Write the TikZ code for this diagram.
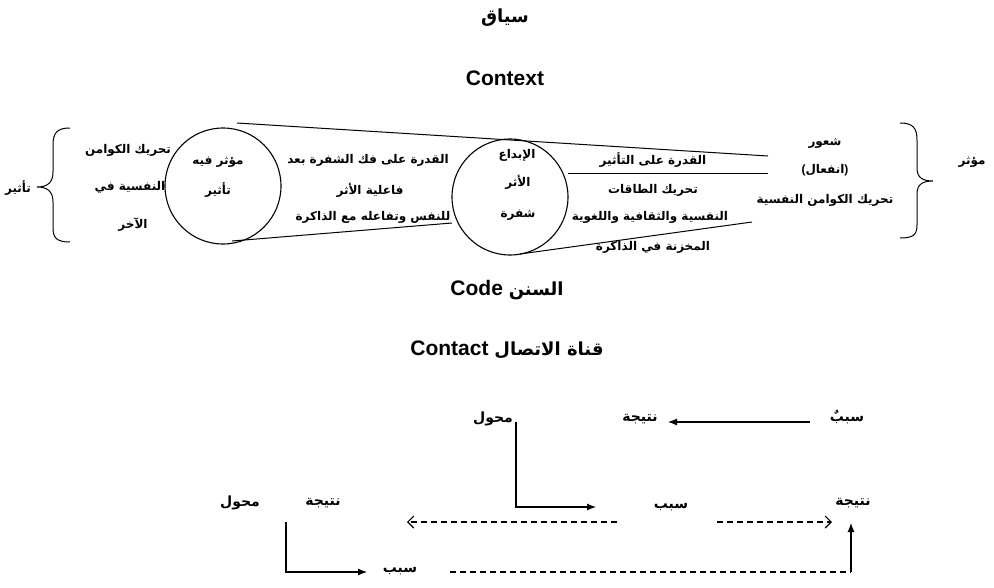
\documentclass[tikz,border=0pt]{standalone}
\usepackage{fontspec}
\setmainfont{Liberation Sans}
\newfontfamily\arfont[Script=Arabic]{DejaVu Sans}
\TeXXeTstate=1
\usetikzlibrary{arrows.meta}
\newcommand{\AR}[1]{{\arfont\beginR #1\endR}}
\begin{document}
\begin{tikzpicture}[x=1pt,y=-1pt,
  ar/.style={font=\arfont\bfseries\fontsize{12}{14}\selectfont, inner sep=0pt},
  arb/.style={font=\arfont\bfseries\fontsize{14}{16}\selectfont, inner sep=0pt},
  lat/.style={font=\bfseries\fontsize{21}{24}\selectfont, inner sep=0pt},
  ln/.style={line width=1pt},
  ring/.style={line width=1.1pt},
  sol/.style={line width=1.1pt, -{Latex[length=9pt,width=7pt]}},
  dsh/.style={line width=1.1pt, dash pattern=on 6pt off 4pt},
  barb/.style={-{Straight Barb[length=6pt,width=12pt,line width=1.1pt]}}]
\useasboundingbox (0,0) rectangle (994,587);
% titles
\node[font=\arfont\bfseries\fontsize{18}{20}\selectfont, inner sep=0pt] (tsiyaq) at (505,18) {\AR{سياق}};
\node[lat] (tcontext) at (505,78) {Context};
\node[lat] (tcode) at (507,290) {Code {\fontsize{18}{20}\selectfont\AR{السنن}}};
\node[lat] (tcontact) at (507,350) {Contact {\fontsize{18}{20}\selectfont\AR{قناة الاتصال}}};
% braces
\draw[ln] (70,128) .. controls (57,128) and (53,133) .. (53,145) -- (53,172) .. controls (53,183) and (47,187) .. (37,187) .. controls (47,187) and (53,191) .. (53,202) -- (53,228) .. controls (53,238) and (57,242) .. (70,242);
\draw[ln] (900,123) .. controls (913,123) and (917,128) .. (917,140) -- (917,168) .. controls (917,178) and (923,181) .. (933,181) .. controls (923,181) and (917,184) .. (917,194) -- (917,225) .. controls (917,235) and (913,238) .. (900,238);
% circles
\coordinate (c1) at (223,186);
\coordinate (c2) at (510,197);
\draw[ring] (c1) circle[radius=58pt];
\draw[ring] (c2) circle[radius=58pt];
% lines
\draw[ln] (237,123) -- (768,156);
\draw[ln] (568,173) -- (768,173);
\draw[ln] (232,241) -- (452,223);
\draw[ln] (520,254) -- (752,222);
% side labels
\node[ar] (lbl) at (18,188) {\AR{تأثير}};
\node[ar] (rbl) at (972,162) {\AR{مؤثر}};
% left text
\node[ar] (l1) at (128,150) {\AR{تحريك الكوامن}};
\node[ar] (l2) at (130,187) {\AR{النفسية في}};
\node[ar] (l3) at (133,225) {\AR{الآخر}};
% circle 1 text
\node[ar] (c1a) at (218,162) {\AR{مؤثر فيه}};
\node[ar] (c1b) at (218,190) {\AR{تأثير}};
% between
\node[ar] (b1) at (368,160) {\AR{القدرة على فك الشفرة بعد}};
\node[ar] (b2) at (370,190) {\AR{فاعلية الأثر}};
\node[ar] (b3) at (373,217) {\AR{للنفس وتفاعله مع الذاكرة}};
% circle 2 text
\node[ar] (c2a) at (517,155) {\AR{الإبداع}};
\node[ar] (c2b) at (518,182) {\AR{الأثر}};
\node[ar] (c2c) at (518,215) {\AR{شفرة}};
% right text
\node[ar] (r1) at (653,160) {\AR{القدرة على التأثير}};
\node[ar] (r2) at (653,190) {\AR{تحريك الطاقات}};
\node[ar] (r3) at (650,217) {\AR{النفسية والثقافية واللغوية}};
\node[ar] (r4) at (653,247) {\AR{المخزنة في الذاكرة}};
% far right
\node[ar] (f1) at (825,143) {\AR{شعور}};
\node[ar] (f2) at (825,170) {{\rmfamily(}\AR{انفعال}{\rmfamily)}};
\node[ar] (f3) at (825,200) {\AR{تحريك الكوامن النفسية}};
% bottom labels
\node[arb] (s1) at (847,417) {\AR{سببٌ}};
\node[arb] (n1) at (640,419) {\AR{نتيجة}};
\node[arb] (m1) at (493,419) {\AR{محول}};
\node[arb] (s2) at (671,507) {\AR{سبب}};
\node[arb] (n2) at (853,503) {\AR{نتيجة}};
\node[arb] (m2) at (240,503) {\AR{محول}};
\node[arb] (n3) at (323,503) {\AR{نتيجة}};
\node[arb] (s3) at (400,571) {\AR{سبب}};
% arrow end points
\coordinate (a1s) at (810,422);
\coordinate (a1e) at (668,422);
\coordinate (a2s) at (516,422);
\coordinate (a2m) at (516,507);
\coordinate (a2e) at (596,507);
\coordinate (d1s) at (617,522);
\coordinate (d1e) at (407,522);
\coordinate (d2s) at (717,522);
\coordinate (d2e) at (832,522);
\coordinate (a3s) at (286,522);
\coordinate (a3m) at (286,572);
\coordinate (a3e) at (367,572);
\coordinate (d3s) at (450,572);
\coordinate (d3m) at (851,572);
\coordinate (d3e) at (851,523);
% arrows
\draw[sol] (a1s) -- (a1e);
\draw[sol] (a2s) -- (a2m) -- (a2e);
\draw[dsh,barb] (d1s) -- (d1e);
\draw[dsh,barb] (d2s) -- (d2e);
\draw[sol] (a3s) -- (a3m) -- (a3e);
\draw[dsh] (d3s) -- (d3m);
\draw[sol] (d3m) -- (d3e);
\end{tikzpicture}
\end{document}
